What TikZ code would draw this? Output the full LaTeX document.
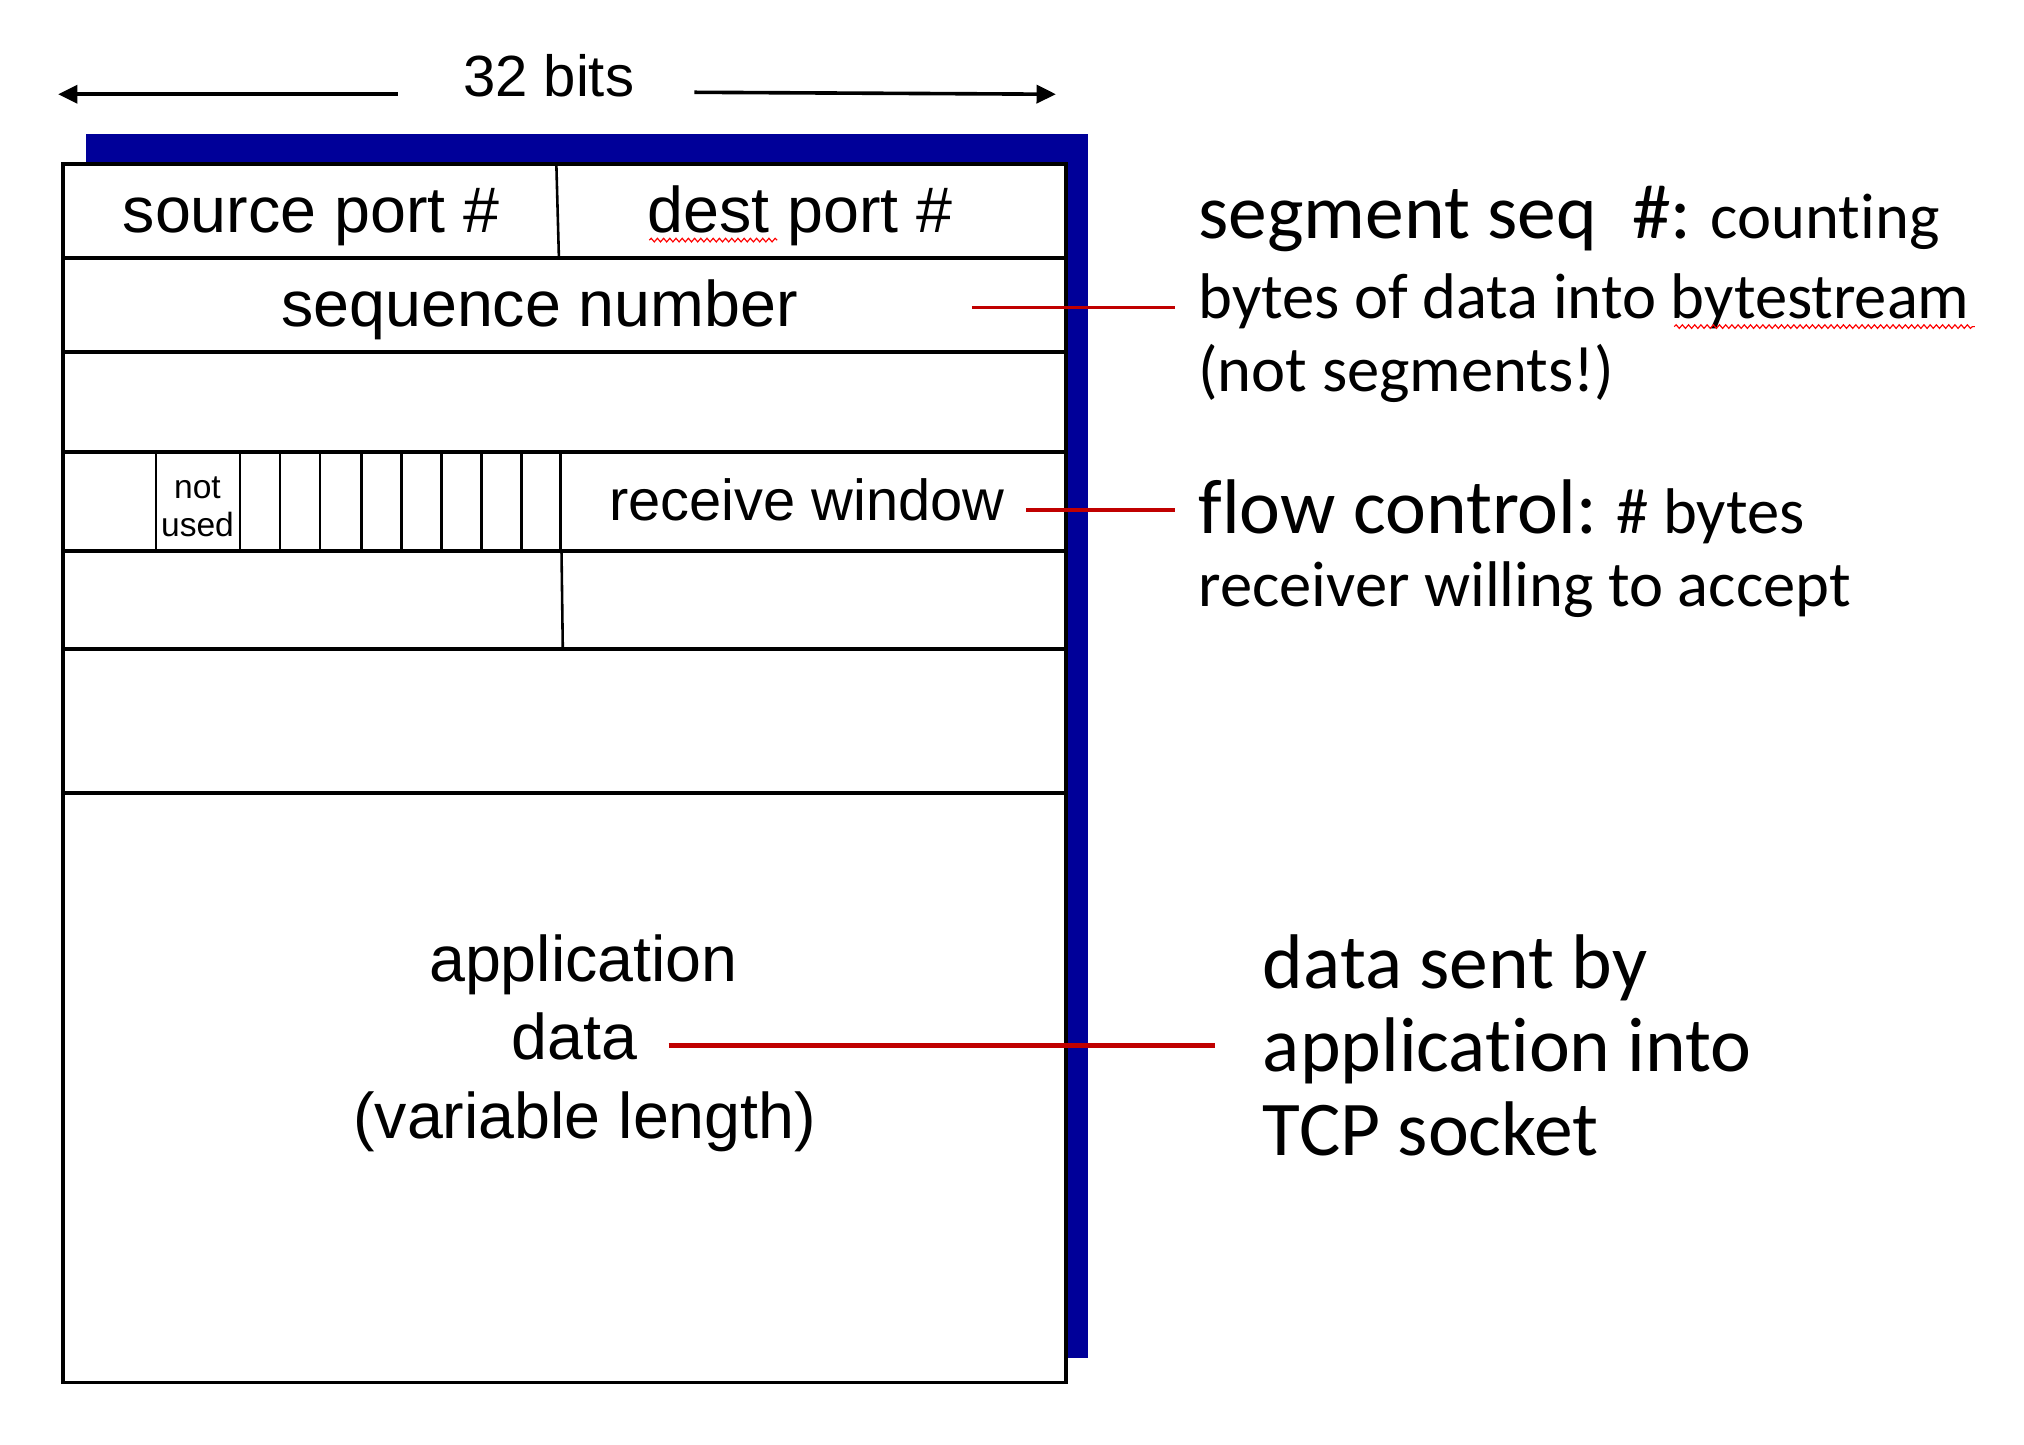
\documentclass[tikz,border=0pt]{standalone}
\usepackage{fontspec}
\setmainfont{Liberation Sans}
\newfontfamily\calib[Ligatures={NoCommon,NoContextual},RawFeature={-liga;-clig;-dlig}]{Carlito}
\newcommand{\nolig}{\kern0pt{}}
\usetikzlibrary{arrows.meta,decorations.pathmorphing}
\definecolor{hdrblue}{RGB}{0,0,153}
\definecolor{linkred}{RGB}{192,0,0}
\definecolor{spellred}{RGB}{255,0,0}
\begin{document}
\begin{tikzpicture}[x=0.5pt,y=-0.5pt,
  boxline/.style={line width=1.5pt},
  thinline/.style={line width=1pt},
  arrowline/.style={line width=1.4pt,-{Triangle[length=7.5pt,width=7pt]}},
  lbl/.style={font=\fontsize{25}{30}\selectfont, anchor=base, inner sep=0pt},
  smalllbl/.style={font=\fontsize{13}{15}\selectfont, anchor=base, inner sep=0pt},
  note/.style={font=\calib\fontsize{25}{30}\selectfont, anchor=base west, inner sep=0pt},
  bignote/.style={font=\calib\fontsize{30}{36}\selectfont, anchor=base west, inner sep=0pt},
  redline/.style={draw=linkred, line width=1.3pt},
  squig/.style={draw=spellred, line width=0.45pt, decorate, decoration={snake, amplitude=0.7pt, segment length=2.4pt}}
]
\useasboundingbox (0,0) rectangle (1568,1119);

% blue shadow and segment box
\fill[hdrblue] (67,104) rectangle (843,1052);
\draw[boxline, fill=white] (49,127) rectangle (826,1071);
\foreach \yy in {200,273,350,427,503,614}
  \draw[boxline] (49,\yy) -- (826,\yy);
\draw[thinline] (431,127) -- (433,200);
\draw[thinline] (435,427) -- (436,503);
\foreach \xx in {121,186,217,248,280,311,342,373,404,434}
  \draw[thinline] (\xx,350) -- (\xx,427);

% width arrow
\node[lbl, font=\fontsize{22.5}{27}\selectfont] (bits) at (425,75) {32 bits};
\coordinate (lstart) at (308,73);
\coordinate (lend) at (45,73);
\coordinate (rstart) at (538,71.5);
\coordinate (rend) at (818,73);
\draw[arrowline] (lstart) -- (lend);
\draw[arrowline] (rstart) -- (rend);

% field labels
\node[lbl] (srcport) at (241,180) {source port \#};
\node[lbl] (dstport) at (620,180) {dest port \#};
\node[lbl] (seqnum) at (418,253) {sequence number};
\node[smalllbl] (notw) at (153,386) {not};
\node[smalllbl] (usedw) at (153,416) {used};
\node[lbl, font=\fontsize{22.4}{27}\selectfont] (rwnd) at (625,403) {receive window};
\node[lbl] (app1) at (452,760) {application};
\node[lbl] (app2) at (445,821) {data};
\node[lbl] (app3) at (453,882) {(variable length)};

% spell-check marks
\coordinate (sq1a) at (503,186);
\coordinate (sq1b) at (602,186);
\draw[squig] (sq1a) -- (sq1b);

% annotations
\node[bignote] (segnote1) at (928,185) {segment seq\ \ \#:\fontsize{25}{30}\selectfont{} count\nolig ing};
\node[note] (segnote2) at (928,247) {bytes of data into bytestream};
\node[note] (segnote3) at (928,303) {(not segments!)};
\node[bignote] (flownote1) at (928,413) {f\nolig low control:\fontsize{25}{30}\selectfont{} \# bytes};
\node[note] (flownote2) at (928,470) {receiver willing to accept};
\node[bignote] (datanote1) at (978,766) {data sent by};
\node[bignote] (datanote2) at (978,830) {applicat\nolig ion into};
\node[bignote] (datanote3) at (978,895) {TCP socket};

\coordinate (sq2a) at (1297,253);
\coordinate (sq2b) at (1530,253);
\draw[squig] (sq2a) -- (sq2b);

% red connectors
\coordinate (seqa) at (753,238);
\coordinate (seqb) at (910,238);
\coordinate (rwa) at (795,395);
\coordinate (rwb) at (910,395);
\coordinate (data) at (518,810);
\coordinate (datb) at (941,810);
\draw[redline] (seqa) -- (seqb);
\draw[redline] (rwa) -- (rwb);
\draw[redline, line width=2pt] (data) -- (datb);
\end{tikzpicture}
\end{document}
